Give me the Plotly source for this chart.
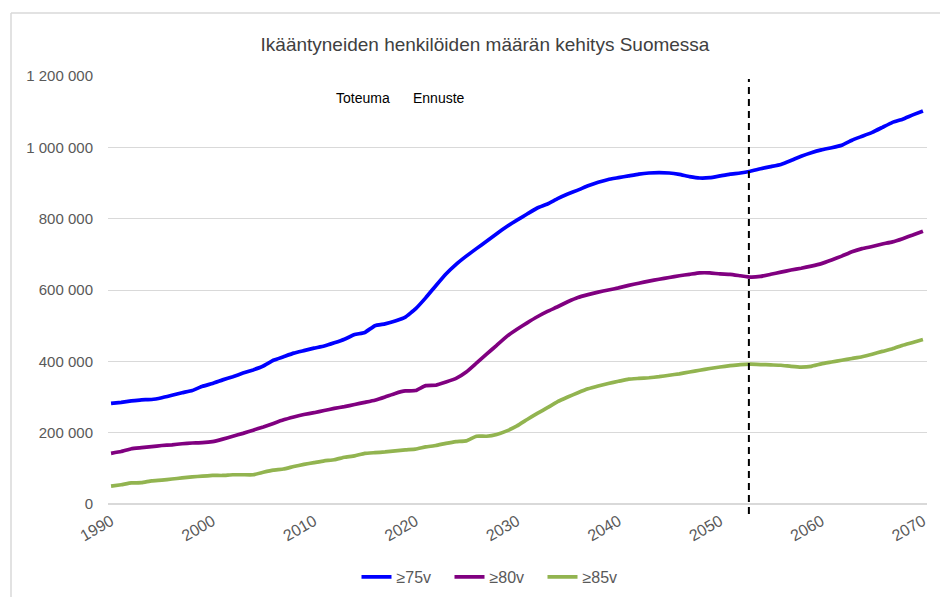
import plotly.graph_objects as go

years = list(range(1990, 2071))

age75 = [282, 285, 289, 292, 293, 298, 305, 312, 318, 330,
         338, 348, 357, 367, 376, 387, 403, 413, 423, 430,
         437, 443, 452, 462, 475, 481, 500, 505, 513, 524,
         547, 578, 612, 645, 672, 695, 716, 737, 758, 778,
         796, 813, 830, 841, 856, 869, 880, 892, 902, 910,
         915, 920, 925, 928, 929, 928, 924, 918, 914, 915,
         920, 925, 928, 933, 940, 946, 952, 963, 975, 985,
         993, 999, 1006, 1020, 1031, 1042, 1056, 1070, 1079, 1091,
         1102]
age80 = [142, 147, 155, 158, 161, 164, 166, 169, 171, 172,
         175, 182, 190, 198, 207, 216, 226, 236, 244, 251,
         256, 262, 268, 273, 279, 285, 291, 300, 310, 317,
         318, 332, 333, 342, 352, 370, 395, 420, 445, 470,
         490, 508, 525, 540, 553, 567, 579, 587, 594, 600,
         606, 613, 619, 625, 630, 635, 640, 644, 648, 648,
         645, 644, 640, 636, 638, 644, 650, 656, 661, 667,
         674, 684, 695, 707, 716, 722, 729, 735, 744, 754,
         765]
age85 = [50, 54, 59, 60, 65, 67, 70, 73, 76, 78,
         80, 80, 82, 82, 82, 89, 95, 98, 105, 111,
         116, 121, 124, 131, 135, 142, 144, 146, 149, 152,
         154, 160, 164, 170, 175, 177, 190, 190, 195, 205,
         219, 237, 254, 270, 287, 300, 312, 323, 331, 338,
         344, 350, 352, 354, 357, 361, 365, 370, 375, 380,
         384, 388, 391, 392, 391, 390, 389, 386, 384, 386,
         393, 398, 403, 408, 413, 420, 428, 435, 445, 453,
         461]

series_names = ["≥75v", "≥80v", "≥85v"]
series_colors = ["#0000FF", "#800080", "#92B450"]
divider_year = 2052.85

title_text = "Ikääntyneiden henkilöiden määrän kehitys Suomessa"
label_left = "Toteuma"
label_right = "Ennuste"

FONT = "Liberation Sans"
OFF = 8  # page body margin

W, H = 948 - OFF, 597 - OFF
L, T = 108 - OFF, 76 - OFF
R = W - (927 - OFF)
B = H - (504 - OFF)
PW, PH = 819, 428


def px(xp):
    return (xp - 108) / PW


def py(yp):
    return (504 - yp) / PH


fig = go.Figure()
for name, vals, col in zip(series_names, [age75, age80, age85], series_colors):
    fig.add_trace(go.Scatter(
        x=years, y=[v * 1000 for v in vals], mode="lines", name=name,
        line=dict(color=col, width=3.7, shape="spline", smoothing=0.3),
    ))

fig.add_shape(type="line", xref="x", yref="paper", x0=divider_year, x1=divider_year,
              y0=py(514), y1=py(79), line=dict(color="black", width=2, dash="7px,5px"))

# chart border (top and left visible)
fig.add_shape(type="line", xref="paper", yref="paper", x0=px(11), x1=1.1, y0=py(13), y1=py(13),
              line=dict(color="#D9D9D9", width=1.5))
fig.add_shape(type="line", xref="paper", yref="paper", x0=px(11), x1=px(11), y0=-0.3, y1=py(13),
              line=dict(color="#D9D9D9", width=1.5))

fig.add_annotation(x=px(363), y=py(98), xref="paper", yref="paper", xanchor="center", yanchor="middle",
                   text=label_left, showarrow=False, font=dict(family=FONT, size=14, color="#000000"))
fig.add_annotation(x=px(439), y=py(98), xref="paper", yref="paper", xanchor="center", yanchor="middle",
                   text=label_right, showarrow=False, font=dict(family=FONT, size=14, color="#000000"))

fig.update_layout(
    width=W, height=H,
    margin=dict(l=L, r=R, t=T, b=B, autoexpand=False),
    paper_bgcolor="white", plot_bgcolor="white",
    separators=", ",
    font=dict(family=FONT, size=14, color="#595959"),
    title=dict(text=title_text, x=(485 - OFF) / W, xref="container", xanchor="center",
               y=1 - (44 - OFF) / H, yref="container", yanchor="middle",
               font=dict(family=FONT, size=19, color="#404040")),
    showlegend=True,
    legend=dict(orientation="h", x=px(496), xanchor="center",
                y=py(577), yanchor="middle", entrywidth=48, entrywidthmode="pixels",
                font=dict(family=FONT, size=16, color="#595959")),
    xaxis=dict(range=[1989.7, 2070.4], tickmode="linear", tick0=1990, dtick=10,
               tickangle=-30, showgrid=False, showline=False, zeroline=False,
               ticklabelstandoff=4,
               tickfont=dict(family=FONT, size=16, color="#595959")),
    yaxis=dict(range=[0, 1200000], tickmode="linear", tick0=0, dtick=200000,
               tickformat=",d", showgrid=True, gridcolor="#D9D9D9", gridwidth=1,
               zeroline=True, zerolinecolor="#D9D9D9", zerolinewidth=1.5,
               showline=False, ticklabelstandoff=14,
               tickfont=dict(family=FONT, size=15, color="#595959")),
)

fig.write_html("out.html")
